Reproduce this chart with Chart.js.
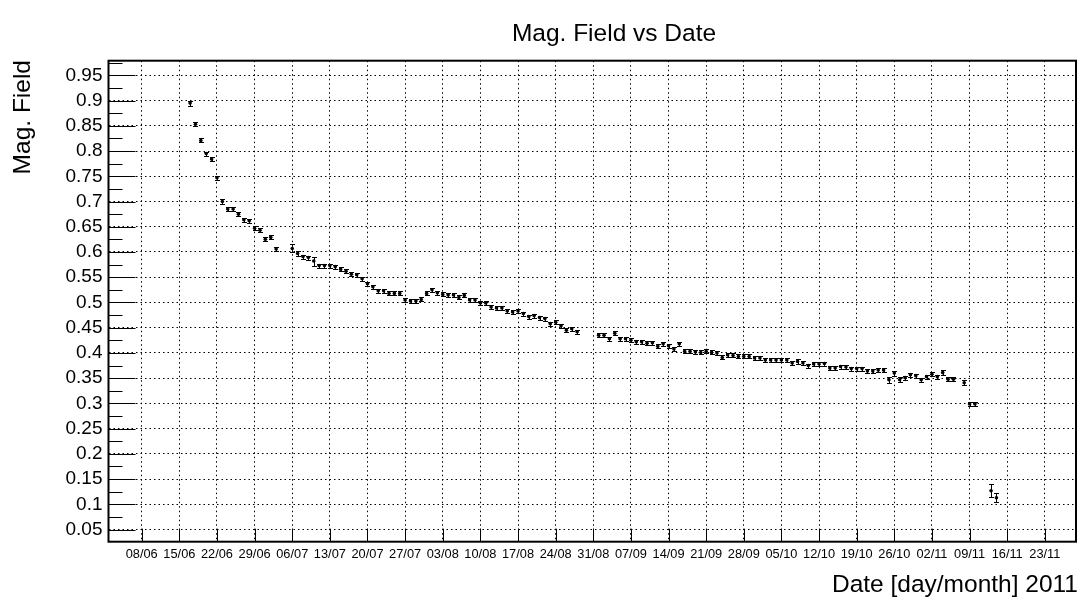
<!DOCTYPE html>
<html>
<head>
<meta charset="utf-8">
<title>Mag. Field vs Date</title>
<script src="https://cdn.jsdelivr.net/npm/chart.js@4.4.1/dist/chart.umd.min.js"></script>
<style>
  html, body { margin: 0; padding: 0; background: #fff; }
  #wrap { width: 1084px; height: 604px; }
</style>
</head>
<body>
<div id="wrap"><canvas id="magChart" width="1084" height="604"></canvas></div>
<script>
// measurement dates (day/month 2011), one per point
const dates = [
  '17/06','18/06','19/06','20/06','21/06','22/06','23/06','24/06','25/06','26/06','27/06','28/06','29/06','30/06',
  '01/07','02/07','03/07','06/07','07/07','08/07','09/07','10/07','11/07','12/07','13/07','14/07','15/07','16/07',
  '17/07','18/07','19/07','20/07','21/07','22/07','23/07','24/07','25/07','26/07','27/07','28/07','29/07','30/07','31/07',
  '01/08','02/08','03/08','04/08','05/08','06/08','07/08','08/08','09/08','10/08','11/08','12/08','13/08','14/08',
  '15/08','16/08','17/08','18/08','19/08','20/08','21/08','22/08','23/08','24/08','25/08','26/08','27/08','28/08',
  '01/09','02/09','03/09','04/09','05/09','06/09','07/09','08/09','09/09','10/09','11/09','12/09','13/09','14/09','15/09',
  '16/09','17/09','18/09','19/09','20/09','21/09','22/09','23/09','24/09','25/09','26/09','27/09','28/09','29/09','30/09',
  '01/10','02/10','03/10','04/10','05/10','06/10','07/10','08/10','09/10','10/10','11/10','12/10','13/10','14/10','15/10',
  '16/10','17/10','18/10','19/10','20/10','21/10','22/10','23/10','24/10','25/10','26/10','27/10','28/10','29/10','30/10','31/10',
  '01/11','02/11','03/11','04/11','05/11','06/11','08/11','09/11','10/11','13/11','14/11'
];

const values = [
  0.895,0.853,0.821,0.795,0.784,0.747,0.700,0.685,0.685,0.675,0.664,0.662,0.647,0.643,
  0.625,0.629,0.606,0.607,0.597,0.591,0.589,0.582,0.573,0.573,0.573,0.571,0.566,0.562,
  0.556,0.555,0.547,0.537,0.531,0.523,0.523,0.518,0.518,0.518,0.505,0.503,0.503,0.506,0.518,
  0.525,0.519,0.516,0.515,0.515,0.510,0.514,0.505,0.505,0.499,0.499,0.491,0.489,0.489,
  0.483,0.481,0.483,0.478,0.472,0.474,0.470,0.468,0.458,0.461,0.454,0.445,0.448,0.442,
  0.435,0.435,0.428,0.439,0.428,0.428,0.425,0.422,0.422,0.419,0.420,0.413,0.418,0.414,0.408,
  0.418,0.403,0.403,0.402,0.401,0.403,0.401,0.400,0.391,0.396,0.395,0.393,0.393,0.393,0.390,
  0.390,0.386,0.386,0.386,0.386,0.386,0.380,0.383,0.380,0.375,0.378,0.378,0.379,0.370,0.370,
  0.373,0.372,0.369,0.369,0.369,0.364,0.364,0.366,0.366,0.347,0.360,0.347,0.351,0.357,0.355,0.347,
  0.353,0.358,0.353,0.361,0.348,0.348,0.341,0.299,0.299,0.127,0.113
];

const errors = [
  0.005,0.004,0.004,0.004,0.004,0.004,0.004,0.004,0.004,0.004,0.004,0.004,0.004,0.004,
  0.004,0.004,0.004,0.008,0.004,0.004,0.004,0.009,0.004,0.004,0.004,0.004,0.004,0.004,
  0.004,0.004,0.004,0.004,0.004,0.004,0.004,0.004,0.004,0.004,0.004,0.004,0.004,0.004,0.004,
  0.004,0.004,0.004,0.004,0.004,0.004,0.004,0.004,0.004,0.004,0.004,0.004,0.004,0.004,
  0.004,0.004,0.004,0.004,0.004,0.004,0.004,0.004,0.004,0.004,0.004,0.004,0.004,0.004,
  0.004,0.004,0.004,0.004,0.004,0.004,0.004,0.004,0.004,0.004,0.004,0.004,0.004,0.004,0.004,
  0.004,0.004,0.004,0.004,0.004,0.004,0.004,0.004,0.004,0.004,0.004,0.004,0.004,0.004,0.004,
  0.004,0.004,0.004,0.004,0.004,0.004,0.004,0.004,0.004,0.004,0.004,0.004,0.004,0.004,0.004,
  0.004,0.004,0.004,0.004,0.004,0.004,0.004,0.004,0.004,0.006,0.005,0.005,0.004,0.004,0.004,0.004,
  0.004,0.004,0.004,0.005,0.004,0.004,0.005,0.004,0.004,0.0125,0.009
];

const xTickLabels = ['08/06','15/06','22/06','29/06','06/07','13/07','20/07','27/07','03/08','10/08','17/08',
  '24/08','31/08','07/09','14/09','21/09','28/09','05/10','12/10','19/10','26/10','02/11','09/11','16/11','23/11'];
const yTicks = [0.05,0.1,0.15,0.2,0.25,0.3,0.35,0.4,0.45,0.5,0.55,0.6,0.65,0.7,0.75,0.8,0.85,0.9,0.95];

const FONT = "'Liberation Sans', Arial, Helvetica, sans-serif";
const monthStart = [0,31,59,90,120,151,181,212,243,273,304,334];

// 'dd/mm' -> day of year 2011
function dayOfYear(s) {
  const [d, m] = s.split('/').map(Number);
  return monthStart[m - 1] + d;
}

const points = dates.map((d, i) => ({ x: dayOfYear(d), y: values[i] }));
const xTickValues = xTickLabels.map(dayOfYear);

// error bars, inward ticks, frame and titles in ROOT style
const rootStyle = {
  id: 'rootStyle',
  beforeDatasetsDraw(chart) {
    const ctx = chart.ctx, xs = chart.scales.x, ys = chart.scales.y;
    ctx.save();
    ctx.strokeStyle = '#000';
    ctx.lineWidth = 1;
    points.forEach((p, i) => {
      const px = Math.round(xs.getPixelForValue(p.x)) + 0.5;
      const top = Math.round(ys.getPixelForValue(p.y + errors[i])) + 0.5;
      const bot = Math.round(ys.getPixelForValue(p.y - errors[i])) + 0.5;
      ctx.beginPath();
      ctx.moveTo(px, top); ctx.lineTo(px, bot);
      ctx.moveTo(px - 2.5, top); ctx.lineTo(px + 2.5, top);
      ctx.moveTo(px - 2.5, bot); ctx.lineTo(px + 2.5, bot);
      ctx.stroke();
    });
    ctx.restore();
  },
  afterDraw(chart) {
    const ctx = chart.ctx, xs = chart.scales.x, ys = chart.scales.y;
    const a = chart.chartArea;
    ctx.save();
    ctx.strokeStyle = '#000';
    ctx.lineWidth = 1;
    ctx.beginPath();
    // y major + minor ticks, pointing inwards
    yTicks.forEach((v, i) => {
      const py = Math.round(ys.getPixelForValue(v)) + 0.5;
      ctx.moveTo(a.left, py); ctx.lineTo(a.left + 27, py);
      const mids = [v + 0.025];
      if (i === 0) mids.push(v - 0.025);
      mids.forEach(m => {
        if (m > ys.min && m < ys.max) {
          const my = Math.round(ys.getPixelForValue(m)) + 0.5;
          ctx.moveTo(a.left, my); ctx.lineTo(a.left + 14, my);
        }
      });
    });
    // x major ticks
    xTickValues.forEach(v => {
      const px = Math.round(xs.getPixelForValue(v)) + 0.5;
      ctx.moveTo(px, a.bottom); ctx.lineTo(px, a.bottom - 13);
    });
    ctx.stroke();

    // frame
    ctx.lineWidth = 2;
    ctx.strokeRect(a.left, a.top, a.right - a.left, a.bottom - a.top);

    // texts
    ctx.fillStyle = '#000';
    ctx.textBaseline = 'alphabetic';
    ctx.font = '24.5px ' + FONT;
    ctx.textAlign = 'center';
    ctx.fillText('Mag. Field vs Date', 614, 41);

    ctx.textAlign = 'right';
    ctx.fillText('Date [day/month] 2011', 1078, 591.5);

    ctx.translate(29.5, 60);
    ctx.rotate(-Math.PI / 2);
    ctx.textAlign = 'right';
    ctx.fillText('Mag. Field', 0, 0);
    ctx.restore();
  }
};

new Chart(document.getElementById('magChart'), {
  type: 'scatter',
  data: {
    datasets: [{
      label: 'Mag. Field',
      data: points,
      showLine: false,
      pointRadius: 1.8,
      pointHoverRadius: 1.8,
      pointBackgroundColor: '#000',
      pointBorderWidth: 0
    }]
  },
  options: {
    responsive: false,
    animation: false,
    events: [],
    layout: { padding: { left: 0, right: 8, top: 60.7, bottom: 0 } },
    plugins: {
      legend: { display: false },
      title: { display: false },
      tooltip: { enabled: false }
    },
    scales: {
      x: {
        type: 'linear',
        min: 152.82,
        max: 332.8,
        afterFit: (scale) => { scale.height = 62.3; },
        afterBuildTicks: (scale) => { scale.ticks = xTickValues.map(v => ({ value: v })); },
        grid: { color: '#000', lineWidth: 1, drawTicks: false },
        border: { display: false, dash: [1.5, 3] },
        ticks: {
          autoSkip: false,
          maxRotation: 0,
          padding: 5,
          color: '#000',
          font: { family: FONT, size: 12.8 },
          callback: (v) => xTickLabels[xTickValues.indexOf(v)]
        }
      },
      y: {
        type: 'linear',
        min: 0.026,
        max: 0.979,
        afterFit: (scale) => { scale.width = 108.5; },
        afterBuildTicks: (scale) => { scale.ticks = yTicks.map(v => ({ value: v })); },
        grid: { color: '#000', lineWidth: 1, drawTicks: false },
        border: { display: false, dash: [1.5, 3] },
        ticks: {
          padding: 6,
          color: '#000',
          font: { family: FONT, size: 19 },
          callback: (v) => String(+v.toFixed(2))
        }
      }
    }
  },
  plugins: [rootStyle]
});
</script>
</body>
</html>
